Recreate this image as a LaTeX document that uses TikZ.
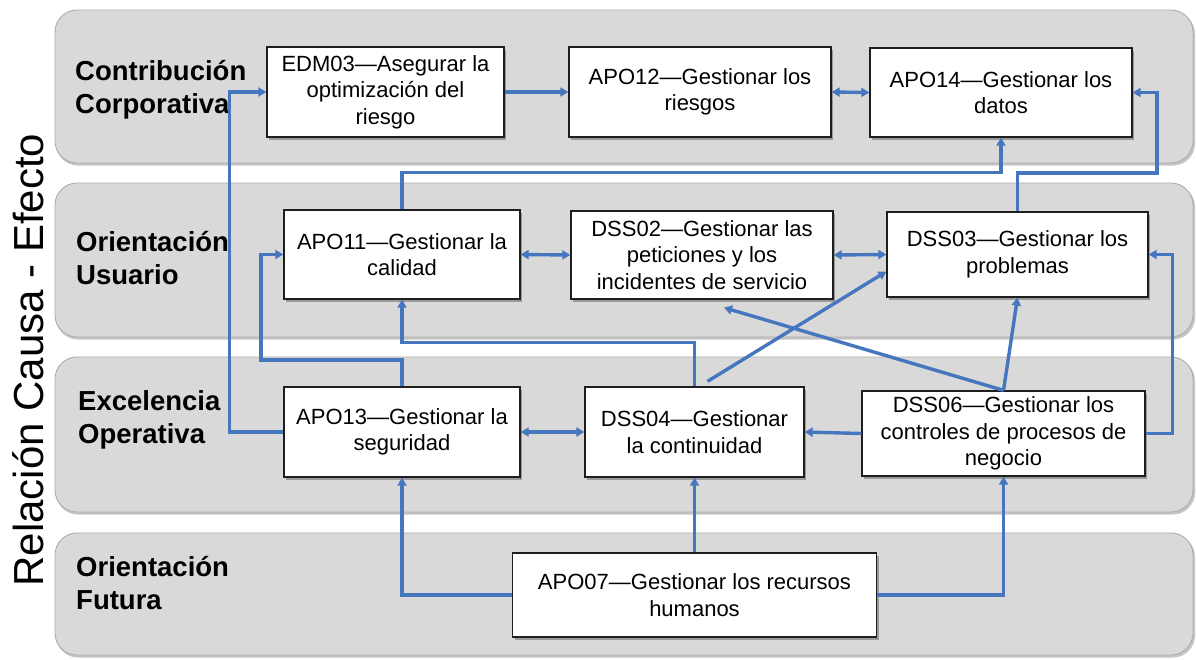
\documentclass[tikz,border=0pt]{standalone}
\usepackage{fontspec}
\setmainfont{Liberation Sans}
\usetikzlibrary{arrows.meta,shadows,calc}

\definecolor{bandfill}{HTML}{D9D9D9}
\definecolor{bandline}{HTML}{ADADAD}
\definecolor{bandshade}{HTML}{C4C4C4}
\definecolor{linkblue}{HTML}{4676BE}
\definecolor{boxline}{HTML}{1E1E1E}

\tikzset{
  band/.style={rounded corners=22pt, fill=bandfill, draw=bandline, line width=0.9pt},
  box/.style={rectangle, draw=boxline, line width=1.3pt, fill=white, inner sep=2pt,
    align=center, font=\fontsize{22}{26.5}\selectfont,
    drop shadow={shadow xshift=2pt, shadow yshift=-2.5pt, opacity=0.45, fill=black!70}},
  lane/.style={anchor=west, align=left, inner sep=0pt,
    font=\fontsize{27.5}{33}\selectfont\bfseries},
  wire/.style={draw=linkblue, line width=3.4pt},
  link/.style={wire, -{Triangle[length=8pt,width=9pt]}},
  twoway/.style={wire, {Triangle[length=8pt,width=9pt]}-{Triangle[length=8pt,width=9pt]}},
}

\begin{document}
\begin{tikzpicture}[x=1pt,y=-1pt]
\useasboundingbox (0,0) rectangle (1196,659);

% perspective bands
\foreach \ya/\yb in {10/163,183/337,357/512,533/655}{
  \fill[bandshade, rounded corners=22pt] (56,\ya+2) rectangle (1195,\yb+2.5);
  \draw[band] (55,\ya) rectangle (1193,\yb);
}

% axis title
\node[rotate=90, inner sep=0pt, font=\fontsize{42}{50}\selectfont] (title) at (28,360) {Relación Causa - Efecto};

% band labels
\node[lane] (lane1) at (75,90)  {Contribución\\Corporativa};
\node[lane] (lane2) at (76,258) {Orientación\\Usuario};
\node[lane] (lane3) at (78,420) {Excelencia\\Operativa};
\node[lane] (lane4) at (76,583) {Orientación\\Futura};

% processes
\node[box, minimum width=237pt, minimum height=90pt] (EDM03) at (385.5,92)  {EDM03—Asegurar la\\optimización del\\riesgo};
\node[box, minimum width=262pt, minimum height=90pt] (APO12) at (700,92)    {APO12—Gestionar los\\riesgos};
\node[box, minimum width=262pt, minimum height=89pt] (APO14) at (1001,92.5) {APO14—Gestionar los\\datos};
\node[box, minimum width=236pt, minimum height=89pt] (APO11) at (402,254.5) {APO11—Gestionar la\\calidad};
\node[box, minimum width=262pt, minimum height=88pt] (DSS02) at (702,255)   {DSS02—Gestionar las\\peticiones y los\\incidentes de servicio};
\node[box, minimum width=261pt, minimum height=85pt] (DSS03) at (1017.5,254.5) {DSS03—Gestionar los\\problemas};
\node[box, minimum width=236pt, minimum height=90pt] (APO13) at (402,432)   {APO13—Gestionar la\\seguridad};
\node[box, minimum width=219pt, minimum height=90pt] (DSS04) at (694.5,432) {DSS04—Gestionar\\la continuidad};
\node[box, minimum width=283pt, minimum height=85pt] (DSS06) at (1003.5,433.5) {DSS06—Gestionar los\\controles de procesos de\\negocio};
\node[box, minimum width=364pt, minimum height=84pt] (APO07) at (694.5,595) {APO07—Gestionar los recursos\\humanos};

% routing corners
\coordinate (kR) at (1157,173);
\coordinate (kL) at (261,360);

% relations
\draw[link]   (APO13.west) -- ++(-54,0) |- (EDM03.west);
\draw[link]   (EDM03.east) -- (APO12.west);
\draw[twoway] (APO12.east) -- (APO14.west);
\draw[link]   (APO11.north) -- ++(0,-37) -| (APO14.south);
\draw[link]   (DSS03.north) |- (kR) |- (APO14.east);
\draw[twoway] (APO11.east) -- (DSS02.west);
\draw[twoway] (DSS02.east) -- (DSS03.west);
\draw[link]   (APO13.north) |- (kL) |- (APO11.west);
\draw[link]   (DSS04.north) -- ++(0,-44) -| (APO11.south);
\draw[link]   ($(DSS04.north)+(13,-5)$) -- ($(DSS03.west)+(0,17)$);
\draw[link]   (DSS06.north) -- ($(DSS02.south)+(22,8)$);
\draw[link]   (DSS06.north) -- (DSS03.south);
\draw[link]   (DSS06.east) -- ++(27,0) |- (DSS03.east);
\draw[twoway] (APO13.east) -- (DSS04.west);
\draw[link]   (DSS06.west) -- (DSS04.east);
\draw[link]   (APO07.west) -| (APO13.south);
\draw[link]   (APO07.north) -- (DSS04.south);
\draw[link]   (APO07.east) -| (DSS06.south);
\end{tikzpicture}
\end{document}
